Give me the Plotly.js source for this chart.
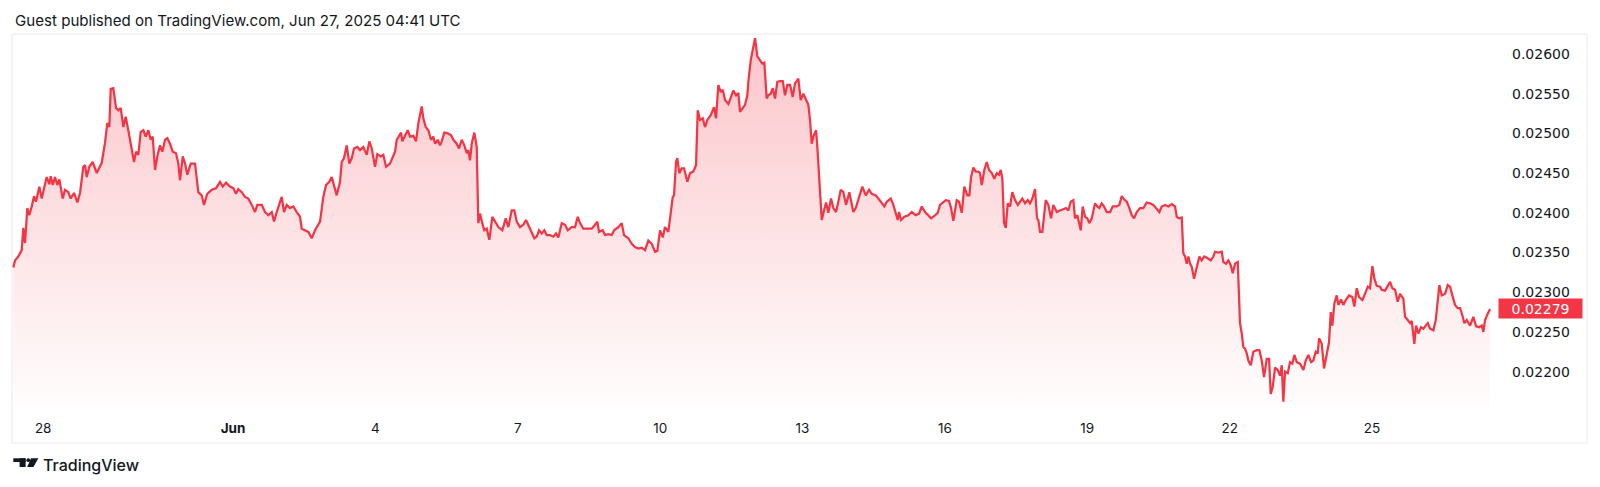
<!DOCTYPE html>
<html>
<head>
<meta charset="utf-8">
<script src="https://cdn.plot.ly/plotly-3.0.1.min.js"></script>
<style>
html,body{margin:0;padding:0;background:#fff;}
#chart{width:1600px;height:487px;}
</style>
</head>
<body>
<div id="chart"></div>
<script>
// ---- data ----
const year = "2025";
const times = [
"05-27 08:54","05-27 09:46","05-27 11:26","05-27 13:09","05-27 13:57","05-27 14:49","05-27 15:59","05-27 17:00","05-27 18:12","05-27 19:22",
"05-27 20:23","05-27 22:03","05-27 23:16","05-28 00:56","05-28 01:47","05-28 03:06","05-28 03:49","05-28 04:50","05-28 05:59","05-28 07:09",
"05-28 08:10","05-28 09:53","05-28 11:03","05-28 12:43","05-28 13:56","05-28 15:36","05-28 17:16","05-28 18:38","05-28 20:18","05-28 21:10",
"05-28 22:01","05-28 23:20","05-29 01:03","05-29 03:05","05-29 04:23","05-29 05:36","05-29 07:16","05-29 08:26","05-29 09:27","05-29 10:09",
"05-29 11:28","05-29 12:50","05-29 14:00","05-29 15:13","05-29 16:32","05-29 17:44","05-29 19:03","05-29 20:46","05-29 21:56","05-29 22:57",
"05-30 00:07","05-30 01:20","05-30 02:39","05-30 03:51","05-30 05:10","05-30 06:23","05-30 07:24","05-30 08:34","05-30 09:43","05-30 11:05",
"05-30 12:15","05-30 13:37","05-30 14:47","05-30 16:08","05-30 17:31","05-30 19:11","05-30 20:20","05-30 21:12","05-30 22:34","05-30 23:44",
"05-31 00:53","05-31 02:37","05-31 04:47","05-31 06:27","05-31 08:10","05-31 09:20","05-31 11:00","05-31 13:14","05-31 15:24","05-31 17:26",
"05-31 18:48","05-31 20:28","05-31 22:29","06-01 00:09","06-01 01:31","06-01 02:41","06-01 04:24","06-01 06:04","06-01 07:44","06-01 09:28",
"06-01 11:08","06-01 12:17","06-01 14:31","06-01 16:11","06-01 17:51","06-01 19:34","06-01 20:44","06-01 22:06","06-01 23:25","06-02 00:38",
"06-02 01:47","06-02 03:10","06-02 04:50","06-02 06:30","06-02 08:13","06-02 09:53","06-02 10:45","06-02 12:25","06-02 14:05","06-02 15:48",
"06-02 17:28","06-02 20:00","06-02 21:40","06-02 23:02","06-03 00:42","06-03 01:55","06-03 03:05","06-03 04:26","06-03 06:07","06-03 06:58",
"06-03 08:08","06-03 09:30","06-03 10:49","06-03 12:02","06-03 13:11","06-03 14:52","06-03 16:14","06-03 17:54","06-03 19:37","06-03 20:56",
"06-03 22:08","06-03 23:49","06-04 00:58","06-04 02:41","06-04 04:00","06-04 05:22","06-04 07:24","06-04 08:46","06-04 09:56","06-04 10:47",
"06-04 11:57","06-04 12:58","06-04 13:37","06-04 14:59","06-04 16:21","06-04 17:31","06-04 19:11","06-04 20:33","06-04 21:43","06-04 23:26",
"06-05 00:14","06-05 01:27","06-05 02:46","06-05 04:08","06-05 05:17","06-05 06:09","06-05 07:31","06-05 08:41","06-05 09:32","06-05 10:52",
"06-05 12:35","06-05 14:15","06-05 15:25","06-05 17:08","06-05 18:17","06-05 19:39","06-05 20:58","06-05 22:11","06-05 22:59","06-05 23:51",
"06-06 00:43","06-06 02:02","06-06 03:14","06-06 04:03","06-06 04:55","06-06 06:04","06-06 07:05","06-06 08:18","06-06 09:37","06-06 11:08",
"06-06 12:30","06-06 14:10","06-06 16:11","06-06 17:55","06-06 19:13","06-06 20:56","06-06 22:15","06-06 23:28","06-07 01:08","06-07 02:48",
"06-07 04:10","06-07 05:20","06-07 06:42","06-07 08:22","06-07 09:35","06-07 10:45","06-07 12:07","06-07 13:26","06-07 14:38","06-07 16:19",
"06-07 17:59","06-07 19:20","06-07 20:31","06-07 22:14","06-07 23:54","06-08 01:16","06-08 03:17","06-08 04:57","06-08 06:19","06-08 07:29",
"06-08 09:09","06-08 11:22","06-08 13:24","06-08 15:04","06-08 16:14","06-08 17:05","06-08 18:58","06-08 20:07","06-08 21:47","06-08 23:31",
"06-09 00:40","06-09 02:51","06-09 04:34","06-09 05:44","06-09 07:55","06-09 09:38","06-09 11:17","06-09 12:58","06-09 14:41","06-09 16:21",
"06-09 18:01","06-09 19:44","06-09 21:25","06-09 22:34","06-09 23:56","06-10 01:18","06-10 02:28","06-10 04:08","06-10 05:21","06-10 06:22",
"06-10 07:01","06-10 08:02","06-10 08:41","06-10 09:42","06-10 10:55","06-10 12:04","06-10 13:44","06-10 15:07","06-10 16:47","06-10 18:08",
"06-10 19:00","06-10 20:10","06-10 21:32","06-10 22:41","06-10 23:52","06-11 01:35","06-11 03:14","06-11 04:15","06-11 05:25","06-11 06:38",
"06-11 07:38","06-11 08:48","06-11 10:29","06-11 11:51","06-11 13:00","06-11 14:22","06-11 15:32","06-11 16:24","06-11 17:45","06-11 18:55",
"06-11 20:05","06-11 20:35","06-11 21:48","06-11 23:07","06-11 23:59","06-12 01:08","06-12 02:31","06-12 03:40","06-12 04:41","06-12 05:53",
"06-12 06:42","06-12 07:55","06-12 08:56","06-12 10:05","06-12 11:15","06-12 12:37","06-12 13:59","06-12 15:09","06-12 16:19","06-12 17:41",
"06-12 19:02","06-12 20:13","06-12 21:52","06-12 23:05","06-13 00:24","06-13 01:46","06-13 02:56","06-13 03:47","06-13 04:39","06-13 05:28",
"06-13 06:50","06-13 07:29","06-13 08:30","06-13 09:43","06-13 10:52","06-13 11:53","06-13 13:03","06-13 14:25","06-13 15:34","06-13 16:56",
"06-13 18:06","06-13 19:19","06-13 20:38","06-13 22:00","06-13 23:40","06-14 00:32","06-14 01:41","06-14 02:54","06-14 04:13","06-14 06:14",
"06-14 07:58","06-14 09:38","06-14 11:00","06-14 13:01","06-14 14:20","06-14 16:03","06-14 17:22","06-14 18:35","06-14 20:36","06-14 21:55",
"06-14 23:08","06-15 00:08","06-15 00:48","06-15 01:49","06-15 03:29","06-15 05:30","06-15 07:13","06-15 09:14","06-15 10:55","06-15 12:17",
"06-15 13:57","06-15 15:37","06-15 16:59","06-15 18:39","06-15 20:22","06-15 21:32","06-15 23:12","06-16 00:25","06-16 02:05","06-16 03:06",
"06-16 04:16","06-16 05:59","06-16 07:08","06-16 08:31","06-16 09:49","06-16 11:20","06-16 12:21","06-16 13:13","06-16 14:22","06-16 15:35",
"06-16 16:54","06-16 17:46","06-16 18:37","06-16 19:56","06-16 21:09","06-16 22:19","06-16 23:41","06-17 00:59","06-17 02:13","06-17 03:22",
"06-17 04:14","06-17 05:02","06-17 05:54","06-17 06:46","06-17 07:46","06-17 08:56","06-17 10:05","06-17 11:28","06-17 12:50","06-17 13:59",
"06-17 15:09","06-17 16:31","06-17 17:53","06-17 19:03","06-17 20:13","06-17 21:34","06-17 22:35","06-17 23:15","06-18 00:06","06-18 01:16",
"06-18 02:59","06-18 04:18","06-18 05:40","06-18 06:50","06-18 08:33","06-18 10:13","06-18 11:35","06-18 13:15","06-18 14:25","06-18 15:38",
"06-18 16:56","06-18 17:48","06-18 18:58","06-18 20:41","06-18 21:41","06-18 22:52","06-19 00:01","06-19 01:02","06-19 02:15","06-19 03:55",
"06-19 05:05","06-19 06:05","06-19 07:18","06-19 08:28","06-19 09:50","06-19 11:30","06-19 12:52","06-19 14:53","06-19 16:13","06-19 17:25",
"06-19 18:35","06-19 19:57","06-19 21:16","06-19 22:29","06-19 23:38","06-20 01:00","06-20 02:40","06-20 04:20","06-20 06:04","06-20 07:44",
"06-20 09:24","06-20 11:07","06-20 12:26","06-20 13:39","06-20 15:19","06-20 16:59","06-20 18:42","06-20 20:22","06-20 21:14","06-20 22:24",
"06-20 23:46","06-21 00:34","06-21 01:26","06-21 02:17","06-21 03:06","06-21 03:58","06-21 04:49","06-21 05:59","06-21 07:21","06-21 08:40",
"06-21 09:52","06-21 11:11","06-21 12:42","06-21 14:26","06-21 15:44","06-21 16:36","06-21 18:16","06-21 19:59","06-21 20:48","06-21 22:10",
"06-21 23:20","06-22 00:32","06-22 01:33","06-22 02:43","06-22 04:05","06-22 05:14","06-22 06:06","06-22 06:55","06-22 07:46","06-22 08:38",
"06-22 09:26","06-22 10:39","06-22 11:58","06-22 13:41","06-22 15:00","06-22 16:13","06-22 17:23","06-22 18:44","06-22 19:55","06-22 20:46",
"06-22 21:47","06-22 22:56","06-23 00:18","06-23 01:28","06-23 02:20","06-23 03:08","06-23 04:00","06-23 05:22","06-23 06:32","06-23 07:41",
"06-23 08:42","06-23 09:55","06-23 11:35","06-23 13:15","06-23 14:28","06-23 15:47","06-23 17:09","06-23 18:19","06-23 19:31","06-23 20:32",
"06-23 21:11","06-23 22:34","06-23 23:43","06-24 01:05","06-24 02:15","06-24 03:07","06-24 03:55","06-24 04:56","06-24 06:08","06-24 06:57",
"06-24 08:19","06-24 09:29","06-24 10:42","06-24 12:22","06-24 14:02","06-24 15:02","06-24 16:16","06-24 17:25","06-24 19:05","06-24 20:27",
"06-24 21:49","06-24 22:59","06-25 00:09","06-25 01:10","06-25 02:22","06-25 04:02","06-25 04:54","06-25 06:34","06-25 08:14","06-25 09:06",
"06-25 10:16","06-25 11:38","06-25 12:59","06-25 14:09","06-25 15:49","06-25 16:41","06-25 18:03","06-25 19:13","06-25 20:04","06-25 21:23",
"06-25 22:15","06-25 23:25","06-26 00:46","06-26 01:56","06-26 03:09","06-26 04:10","06-26 05:20","06-26 07:00","06-26 08:13","06-26 09:13",
"06-26 10:02","06-26 11:14","06-26 12:55","06-26 14:17","06-26 15:26","06-26 16:36","06-26 17:58","06-26 19:20","06-26 20:30","06-26 21:40",
"06-26 22:40","06-26 23:53","06-27 01:33","06-27 03:13","06-27 04:35","06-27 06:06","06-27 07:28","06-27 08:17","06-27 09:08","06-27 10:30",
"06-27 11:40"
];
const prices = [
0.02331,0.02340,0.02345,0.02353,0.02381,0.02362,0.02406,0.02397,0.02408,0.02421,
0.02414,0.02433,0.02418,0.02436,0.02445,0.02436,0.02446,0.02435,0.02445,0.02435,
0.02442,0.02418,0.02429,0.02426,0.02418,0.02425,0.02413,0.02425,0.02458,0.02460,
0.02445,0.02458,0.02464,0.02450,0.02458,0.02463,0.02488,0.02513,0.02508,0.02556,
0.02557,0.02532,0.02529,0.02532,0.02508,0.02521,0.02504,0.02483,0.02464,0.02477,
0.02473,0.02502,0.02504,0.02496,0.02504,0.02492,0.02496,0.02454,0.02471,0.02485,
0.02477,0.02492,0.02494,0.02487,0.02477,0.02475,0.02462,0.02441,0.02471,0.02462,
0.02448,0.02462,0.02462,0.02426,0.02422,0.02410,0.02424,0.02429,0.02431,0.02439,
0.02433,0.02438,0.02433,0.02431,0.02424,0.02430,0.02426,0.02420,0.02418,0.02410,
0.02401,0.02410,0.02410,0.02401,0.02397,0.02401,0.02389,0.02401,0.02412,0.02420,
0.02401,0.02410,0.02406,0.02408,0.02401,0.02395,0.02380,0.02378,0.02376,0.02368,
0.02378,0.02389,0.02420,0.02435,0.02439,0.02445,0.02433,0.02422,0.02439,0.02464,
0.02469,0.02485,0.02462,0.02469,0.02481,0.02483,0.02479,0.02483,0.02473,0.02490,
0.02481,0.02458,0.02474,0.02471,0.02473,0.02458,0.02462,0.02469,0.02477,0.02492,
0.02496,0.02501,0.02490,0.02497,0.02504,0.02496,0.02497,0.02490,0.02513,0.02534,
0.02519,0.02508,0.02504,0.02492,0.02496,0.02487,0.02492,0.02485,0.02490,0.02501,
0.02500,0.02498,0.02492,0.02487,0.02481,0.02492,0.02485,0.02475,0.02479,0.02466,
0.02487,0.02501,0.02483,0.02387,0.02399,0.02387,0.02378,0.02380,0.02366,0.02395,
0.02389,0.02382,0.02378,0.02393,0.02382,0.02403,0.02403,0.02389,0.02382,0.02385,
0.02391,0.02385,0.02376,0.02368,0.02370,0.02378,0.02374,0.02378,0.02372,0.02372,
0.02370,0.02374,0.02369,0.02387,0.02385,0.02378,0.02382,0.02382,0.02395,0.02387,
0.02380,0.02380,0.02380,0.02385,0.02389,0.02376,0.02378,0.02372,0.02373,0.02372,
0.02378,0.02382,0.02387,0.02372,0.02368,0.02361,0.02357,0.02355,0.02356,0.02353,
0.02365,0.02361,0.02351,0.02352,0.02378,0.02369,0.02382,0.02376,0.02401,0.02420,
0.02422,0.02464,0.02469,0.02450,0.02456,0.02456,0.02439,0.02450,0.02452,0.02460,
0.02529,0.02517,0.02519,0.02508,0.02517,0.02523,0.02533,0.02519,0.02561,0.02552,
0.02555,0.02542,0.02537,0.02546,0.02554,0.02548,0.02551,0.02527,0.02532,0.02536,
0.02548,0.02565,0.02592,0.02611,0.02620,0.02597,0.02592,0.02588,0.02589,0.02544,
0.02548,0.02550,0.02557,0.02544,0.02565,0.02566,0.02566,0.02548,0.02561,0.02561,
0.02546,0.02563,0.02569,0.02542,0.02550,0.02542,0.02536,0.02517,0.02487,0.02496,
0.02504,0.02483,0.02433,0.02391,0.02403,0.02413,0.02400,0.02418,0.02406,0.02401,
0.02414,0.02429,0.02426,0.02410,0.02426,0.02416,0.02401,0.02406,0.02418,0.02433,
0.02422,0.02429,0.02424,0.02422,0.02418,0.02412,0.02408,0.02414,0.02418,0.02410,
0.02401,0.02391,0.02401,0.02391,0.02395,0.02397,0.02401,0.02397,0.02399,0.02408,
0.02401,0.02397,0.02393,0.02396,0.02400,0.02410,0.02413,0.02416,0.02415,0.02406,
0.02390,0.02416,0.02414,0.02400,0.02433,0.02422,0.02422,0.02445,0.02457,0.02452,
0.02452,0.02450,0.02435,0.02454,0.02464,0.02454,0.02450,0.02443,0.02450,0.02448,
0.02454,0.02443,0.02387,0.02381,0.02412,0.02408,0.02426,0.02416,0.02410,0.02414,
0.02418,0.02412,0.02416,0.02412,0.02418,0.02430,0.02393,0.02391,0.02376,0.02376,
0.02416,0.02410,0.02393,0.02410,0.02401,0.02403,0.02404,0.02406,0.02403,0.02414,
0.02416,0.02393,0.02397,0.02378,0.02408,0.02395,0.02393,0.02387,0.02393,0.02412,
0.02408,0.02406,0.02412,0.02408,0.02401,0.02401,0.02408,0.02408,0.02410,0.02421,
0.02417,0.02414,0.02406,0.02397,0.02393,0.02401,0.02406,0.02406,0.02413,0.02412,
0.02410,0.02404,0.02401,0.02408,0.02410,0.02408,0.02411,0.02408,0.02395,0.02393,
0.02394,0.02349,0.02345,0.02336,0.02345,0.02336,0.02332,0.02317,0.02332,0.02345,
0.02340,0.02345,0.02343,0.02340,0.02345,0.02351,0.02350,0.02351,0.02338,0.02336,
0.02340,0.02334,0.02324,0.02336,0.02338,0.02261,0.02248,0.02231,0.02229,0.02223,
0.02214,0.02208,0.02225,0.02227,0.02227,0.02214,0.02193,0.02216,0.02216,0.02172,
0.02181,0.02205,0.02202,0.02195,0.02208,0.02162,0.02200,0.02198,0.02212,0.02210,
0.02221,0.02212,0.02210,0.02202,0.02214,0.02221,0.02212,0.02214,0.02225,0.02223,
0.02242,0.02235,0.02204,0.02221,0.02237,0.02275,0.02258,0.02286,0.02296,0.02284,
0.02291,0.02284,0.02290,0.02296,0.02294,0.02282,0.02305,0.02294,0.02290,0.02298,
0.02307,0.02305,0.02333,0.02317,0.02308,0.02307,0.02303,0.02302,0.02309,0.02313,
0.02305,0.02303,0.02288,0.02298,0.02292,0.02269,0.02265,0.02261,0.02264,0.02235,
0.02258,0.02248,0.02256,0.02254,0.02258,0.02261,0.02254,0.02252,0.02265,0.02286,
0.02309,0.02296,0.02298,0.02309,0.02307,0.02296,0.02284,0.02280,0.02280,0.02271,
0.02261,0.02265,0.02258,0.02269,0.02257,0.02256,0.02258,0.02250,0.02265,0.02273,
0.02279
];
const tickDates = ["05-28","06-01","06-04","06-07","06-10","06-13","06-16","06-19","06-22","06-25"];
const tickLabels = ["28","<b>Jun</b>","4","7","10","13","16","19","22","25"];
const priceTicks = [0.022,0.0225,0.023,0.0235,0.024,0.0245,0.025,0.0255,0.026];
const lastPriceLabel = "0.02279";
const headerText = "Guest published on TradingView.com, Jun 27, 2025 04:41 UTC";
const brandText = "TradingView";

// ---- geometry helpers for decorations (page pixels -> paper coords) ----
const W = 1600, H = 487;
const M = {l: 12, r: 103, t: 34, b: 79};
const PW = W - M.l - M.r, PH = H - M.t - M.b;
const px = v => (v - M.l) / PW;
const py = v => (H - M.b - v) / PH;

const xs = times.map(t => year + "-" + t);
const yRange = [0.021542, 0.026252];
const RED = "#f23645";
const TXT = "#131722";
const FONT = "Inter, 'Noto Sans', sans-serif";
const NUMFONT = "'DejaVu Sans', Inter, sans-serif";

const trace = {
  type: "scatter",
  mode: "lines",
  x: xs,
  y: prices,
  line: {color: RED, width: 2.25},
  fill: "tozeroy",
  fillgradient: {
    type: "vertical",
    start: yRange[0],
    stop: yRange[1],
    colorscale: [[0, "rgba(242,54,69,0.01)"], [0.5, "rgba(242,54,69,0.15)"], [1, "rgba(242,54,69,0.29)"]]
  },
  hoverinfo: "skip"
};

const logoShapes = [
  {type: "rect", xref: "paper", yref: "paper", x0: px(13.3), x1: px(25.6), y0: py(462), y1: py(458.3), fillcolor: TXT, line: {width: 0}},
  {type: "rect", xref: "paper", yref: "paper", x0: px(19.6), x1: px(25.6), y0: py(467), y1: py(458.3), fillcolor: TXT, line: {width: 0}},
  {type: "circle", xref: "paper", yref: "paper", x0: px(26.4), x1: px(30.2), y0: py(462.1), y1: py(458.3), fillcolor: TXT, line: {width: 0}},
  {type: "path", xref: "paper", yref: "paper",
   path: `M ${px(31)} ${py(458.3)} L ${px(38.4)} ${py(458.3)} L ${px(33.4)} ${py(467)} L ${px(27.2)} ${py(467)} Z`,
   fillcolor: TXT, line: {width: 0}}
];

const layout = {
  width: W, height: H,
  margin: M,
  paper_bgcolor: "#ffffff",
  plot_bgcolor: "#ffffff",
  showlegend: false,
  font: {family: FONT, color: TXT, size: 13},
  xaxis: {
    type: "date",
    range: [year + "-05-27 08:14", year + "-06-27 15:11"],
    tickmode: "array",
    tickvals: tickDates.map(d => year + "-" + d),
    ticktext: tickLabels,
    showgrid: false, zeroline: false, showline: false,
    ticks: "",
    ticklabelstandoff: 10,
    tickfont: {family: FONT, size: 13.5, color: TXT},
    fixedrange: true
  },
  yaxis: {
    side: "right",
    range: yRange,
    tickmode: "array",
    tickvals: priceTicks,
    ticktext: priceTicks.map(v => v.toFixed(5)),
    showgrid: false, zeroline: false, showline: false,
    ticks: "",
    ticklabelstandoff: 14,
    tickfont: {family: NUMFONT, size: 14, color: TXT},
    fixedrange: true
  },
  shapes: [
    {type: "rect", xref: "paper", yref: "paper", x0: 0, x1: px(1587), y0: py(443), y1: 1,
     line: {color: "#e8eaee", width: 1}, fillcolor: "rgba(0,0,0,0)", layer: "below"}
  ].concat(logoShapes),
  annotations: [
    {xref: "paper", yref: "paper", x: px(12.5), y: py(20), xanchor: "left", yanchor: "middle",
     text: headerText, showarrow: false, font: {family: FONT, size: 15.1, color: TXT}},
    {xref: "paper", yref: "paper", x: px(40.5), y: py(465), xanchor: "left", yanchor: "middle",
     text: brandText, showarrow: false, font: {family: FONT, size: 16, color: TXT, weight: 500}},
    {xref: "paper", yref: "y", x: px(1498.3), y: prices[prices.length - 1], xanchor: "left", yanchor: "middle",
     text: lastPriceLabel, showarrow: false, bgcolor: RED, width: 83, height: 19, borderpad: 0,
     font: {family: NUMFONT, size: 14, color: "#ffffff"}}
  ]
};

Plotly.newPlot("chart", [trace], layout, {displayModeBar: false, staticPlot: true});
</script>
</body>
</html>
